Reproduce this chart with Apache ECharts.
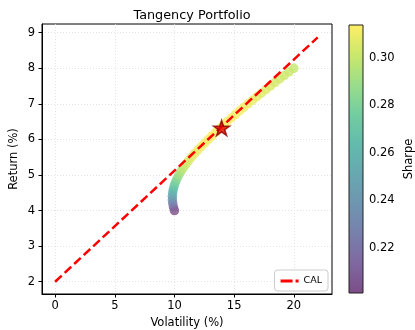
<!DOCTYPE html>
<html><head><meta charset="utf-8">
<script src="https://cdn.jsdelivr.net/npm/echarts@6/dist/echarts.min.js"></script>
<style>html,body{margin:0;padding:0;background:#fff}#c{width:415px;height:330px}</style>
</head><body><div id="c"></div>
<script>
// Efficient frontier points
var frontierVol = [10.000, 9.914, 9.856, 9.826, 9.825, 9.850, 9.904, 9.983, 10.088, 10.217, 10.368,
  10.541, 10.735, 10.947, 11.177, 11.422, 11.683, 11.956, 12.242, 12.538, 12.845,
  13.142, 13.448, 13.763, 14.085, 14.416, 14.753, 15.097, 15.447, 15.802, 16.163,
  16.529, 16.900, 17.275, 17.654, 18.036, 18.423, 18.812, 19.206, 19.601, 20.000];
var frontierRet = [4.0, 4.1, 4.2, 4.3, 4.4, 4.5, 4.6, 4.7, 4.8, 4.9, 5.0,
  5.1, 5.2, 5.3, 5.4, 5.5, 5.6, 5.7, 5.8, 5.9, 6.0,
  6.1, 6.2, 6.3, 6.4, 6.5, 6.6, 6.7, 6.8, 6.9, 7.0,
  7.1, 7.2, 7.3, 7.4, 7.5, 7.6, 7.7, 7.8, 7.9, 8.0];
var frontierSharpe = [0.2000, 0.2118, 0.2232, 0.2341, 0.2443, 0.2538, 0.2625, 0.2705, 0.2776, 0.2838, 0.2893,
  0.2941, 0.2981, 0.3015, 0.3042, 0.3064, 0.3081, 0.3095, 0.3104, 0.3111, 0.3114,
  0.3120, 0.3123, 0.3124, 0.3124, 0.3122, 0.3118, 0.3113, 0.3107, 0.3101, 0.3093,
  0.3085, 0.3077, 0.3068, 0.3059, 0.3049, 0.3040, 0.3030, 0.3020, 0.3010, 0.3000];
// Capital allocation line endpoints
var calVol = [0, 22];
var calRet = [2, 8.87];
// Tangency portfolio
var tangency = [13.95, 6.35];
// Axis ticks
var xTicks = [0, 5, 10, 15, 20];
var yTicks = [2, 3, 4, 5, 6, 7, 8, 9];
var cbTicks = [0.22, 0.24, 0.26, 0.28, 0.30];
var cbRange = [0.2011, 0.3137];
// viridis blended with white (alpha 0.7)
var viridisA = ['#7c4d87', '#7f68a0', '#7880ac', '#6f95b0', '#67a8b0', '#62bbac', '#72cda1', '#9add8a', '#cbe86b', '#feee66'];

var frontierData = frontierVol.map(function (v, i) { return [v, frontierRet[i], frontierSharpe[i]]; });
var calData = calVol.map(function (v, i) { return [v, calRet[i]]; });

var font = 'DejaVu Sans';
var starPath = 'path://M0 -1 L0.2245 -0.309 L0.951 -0.309 L0.3633 0.118 L0.588 0.809 L0 0.382 L-0.588 0.809 L-0.3633 0.118 L-0.951 -0.309 L-0.2245 -0.309 Z';
var dashIcon = 'path://M0 0 H12 V3 H0 Z M15 0 H18 V3 H15 Z';

var chart = echarts.init(document.getElementById('c'), null, { renderer: 'canvas' });
var gradStops = viridisA.map(function (c, i) { return { offset: i / (viridisA.length - 1), color: c }; });

var option = {
  backgroundColor: '#fff',
  animation: false,
  title: {
    text: 'Tangency Portfolio', left: 187, top: 4, textAlign: 'center',
    textStyle: { fontFamily: font, fontSize: 12.8, fontWeight: 'normal', color: '#000' }
  },
  legend: {
    data: [{ name: 'CAL', icon: dashIcon }], right: 87, bottom: 39, orient: 'vertical',
    itemWidth: 18, itemHeight: 3, itemGap: 4,
    padding: [6, 6, 5, 6], borderColor: '#ccc', borderWidth: 1, borderRadius: 3,
    backgroundColor: 'rgba(255,255,255,0.8)',
    textStyle: { fontFamily: font, fontSize: 9.5, color: '#000' }
  },
  visualMap: {
    show: false, type: 'continuous', seriesIndex: 0, dimension: 2,
    min: cbRange[0], max: cbRange[1],
    inRange: { color: viridisA }
  },
  grid: [
    { left: 42, top: 24, width: 290, height: 270, show: true, borderColor: '#000', borderWidth: 1, backgroundColor: 'transparent', containLabel: false, outerBoundsMode: 'none' },
    { left: 349, top: 25, width: 14, height: 268, show: true, borderColor: '#222', borderWidth: 1, z: 10, backgroundColor: 'transparent', containLabel: false, outerBoundsMode: 'none' }
  ],
  xAxis: [
    {
      gridIndex: 0, type: 'value', min: -1.1, max: 23.2,
      name: 'Volatility (%)', nameLocation: 'middle', nameGap: 21,
      nameTextStyle: { fontFamily: font, fontSize: 11.5, color: '#000' },
      axisLine: { show: true, onZero: false, lineStyle: { color: '#000', width: 1 } },
      axisTick: { show: true, customValues: xTicks, length: 3.5, lineStyle: { color: '#000' } },
      axisLabel: { customValues: xTicks, margin: 6, fontFamily: font, fontSize: 11.5, color: '#000' },
      splitLine: { show: true, customValues: xTicks, lineStyle: { color: '#ddd', type: [1, 2], width: 0.8 } }
    },
    {
      gridIndex: 1, type: 'value', min: 0, max: 1, show: false
    }
  ],
  yAxis: [
    {
      gridIndex: 0, type: 'value', min: 1.655, max: 9.245,
      name: 'Return (%)', nameLocation: 'middle', nameGap: 22, nameRotate: 90, nameMoveOverlap: false,
      nameTextStyle: { fontFamily: font, fontSize: 11.5, color: '#000' },
      axisLine: { show: true, onZero: false, lineStyle: { color: '#000', width: 1 } },
      axisTick: { show: true, customValues: yTicks, length: 3.5, lineStyle: { color: '#000' } },
      axisLabel: { customValues: yTicks, margin: 7, fontFamily: font, fontSize: 11.5, color: '#000' },
      splitLine: { show: true, customValues: yTicks, lineStyle: { color: '#ddd', type: [1, 2], width: 0.8 } }
    },
    {
      gridIndex: 1, type: 'value', min: cbRange[0], max: cbRange[1], position: 'right',
      name: 'Sharpe', nameLocation: 'middle', nameGap: 40, nameRotate: 90,
      nameTextStyle: { fontFamily: font, fontSize: 11.5, color: '#000' },
      axisLine: { show: false },
      axisTick: { show: true, customValues: cbTicks, length: 3.5, lineStyle: { color: '#000' } },
      axisLabel: { customValues: cbTicks, margin: 6, fontFamily: font, fontSize: 11.5, color: '#000',
        formatter: function (v) { return v.toFixed(2); } },
      splitLine: { show: false }
    }
  ],
  series: [
    {
      name: 'Frontier', type: 'scatter', xAxisIndex: 0, yAxisIndex: 0,
      data: frontierData, symbol: 'circle', symbolSize: 9.5, z: 2
    },
    {
      name: 'CAL', type: 'line', xAxisIndex: 0, yAxisIndex: 0,
      data: calData, symbol: 'none', z: 3,
      lineStyle: { color: '#ff0000', width: 2.5, type: [9, 4] },
      itemStyle: { color: '#ff0000' }
    },
    {
      name: 'Tangency', type: 'scatter', xAxisIndex: 0, yAxisIndex: 0,
      data: [tangency], symbol: starPath, symbolSize: [16, 15], symbolOffset: [0, 1], z: 4,
      itemStyle: { color: '#e00000', borderColor: '#8b0000', borderWidth: 1.5 }
    },
    {
      name: 'colorbar', type: 'custom', xAxisIndex: 1, yAxisIndex: 1,
      data: [[0, cbRange[0], 1, cbRange[1]]], z: 1, silent: true,
      renderItem: function (params, api) {
        var p0 = api.coord([0, cbRange[1]]);
        var p1 = api.coord([1, cbRange[0]]);
        return {
          type: 'rect',
          shape: { x: p0[0], y: p0[1], width: p1[0] - p0[0], height: p1[1] - p0[1] },
          style: { fill: new echarts.graphic.LinearGradient(0, 1, 0, 0, gradStops) }
        };
      }
    }
  ]
};
chart.setOption(option);
</script>
</body></html>
